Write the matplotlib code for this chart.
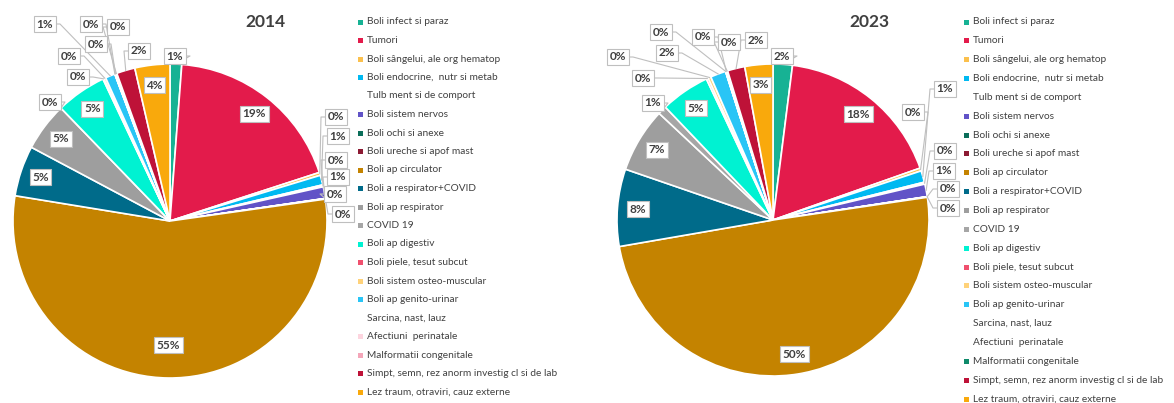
import numpy as np
import matplotlib.pyplot as plt

W, H = 1174, 403

categories = [
    "Boli infect si paraz", "Tumori", "Boli sângelui, ale org hematop",
    "Boli endocrine,  nutr si metab", "Tulb ment si de comport",
    "Boli sistem nervos", "Boli ochi si anexe", "Boli ureche si apof mast",
    "Boli ap circulator", "Boli a respirator+COVID", "Boli ap respirator",
    "COVID 19", "Boli ap digestiv", "Boli piele, tesut subcut",
    "Boli sistem osteo-muscular", "Boli ap genito-urinar",
    "Sarcina, nast, lauz", "Afectiuni  perinatale", "Malformatii congenitale",
    "Simpt, semn, rez anorm investig cl si de lab",
    "Lez traum, otraviri, cauz externe",
]

# percentages
values_2014 = [1.2, 18.8, 0.3, 1.0, 0.2, 1.2, 0.02, 0.05, 54.8, 5.2, 5.0,
               0.0, 5.2, 0.1, 0.2, 1.0, 0.02, 0.1, 0.1, 1.9, 3.6]
values_2023 = [2.0, 17.6, 0.3, 1.2, 0.2, 1.3, 0.02, 0.05, 49.6, 8.0, 6.7,
               0.9, 5.1, 0.2, 0.3, 1.6, 0.02, 0.1, 0.1, 1.8, 2.9]

colors_2014 = ["#17b294", "#e31b4b", "#fbc04d", "#00b9f1", None, "#6153c7",
               "#0b6e5a", "#8c1a33", "#c48300", "#006b8a", "#9e9e9e",
               "#a6a6a6", "#00f2d2", "#f0506e", "#ffd27a", "#29c5f6", None,
               "#fdd5df", "#f4a6b9", "#be1238", "#f9a90c"]
colors_2023 = list(colors_2014)
colors_2023[17] = None
colors_2023[18] = "#0f8a6a"

# outside label positions (pixels) for the small slices
out_2014 = {0: (175, 56), 2: (336, 117), 3: (338, 136), 4: (336, 160),
            5: (338, 177), 6: (335, 194), 7: (343, 214), 11: (50, 102),
            13: (78, 77), 14: (69, 56), 15: (45, 24), 16: (91, 24),
            17: (96, 44), 18: (118, 27), 19: (139, 51)}
out_2023 = {0: (782, 56), 2: (913, 112), 3: (945, 89), 4: (945, 151),
            5: (944, 171), 6: (948, 189), 7: (948, 208), 11: (653, 103),
            13: (643, 78), 14: (618, 57), 15: (667, 53), 16: (661, 32),
            17: (703, 37), 18: (729, 42), 19: (756, 40)}

txt = "#404040"
line_c = "#bfbfbf"

plt.rcParams['font.family'] = ['Lato', 'DejaVu Sans']
fig = plt.figure(figsize=(W / 100, H / 100), dpi=100)
ax = fig.add_axes([0, 0, 1, 1])


def draw_pie(values, colors, cx, cy, r, title, tx, outside, inner_r, lx0, ly0, ldy):
    cy = H - cy
    fill = [c if c else "white" for c in colors]
    wedges, _ = ax.pie(values, colors=fill, startangle=90, counterclock=False,
                       center=(cx, cy), radius=r,
                       wedgeprops=dict(edgecolor="white", linewidth=1.2))
    total = sum(values)
    for i, w in enumerate(wedges):
        pct = "%.0f%%" % (100 * values[i] / total)
        ang = np.deg2rad((w.theta1 + w.theta2) / 2)
        if i in outside:
            px, py = outside[i]
            py = H - py
            ex, ey = cx + r * np.cos(ang), cy + r * np.sin(ang)
            s = -1 if px > ex else 1
            ax.plot([ex, px + s * 15, px + s * 10], [ey, py, py], color=line_c,
                    lw=0.8, zorder=3)
        else:
            rr = inner_r.get(i, 0.87)
            px, py = cx + rr * r * np.cos(ang), cy + rr * r * np.sin(ang)
        ax.text(px, py, pct, ha="center", va="center", fontsize=8.5,
                fontweight="bold", color=txt, zorder=5,
                bbox=dict(boxstyle="square,pad=0.22", fc="white", ec=line_c, lw=0.8))
    ax.text(tx, H - 22, title, ha="center", va="center", fontsize=12.5,
            fontweight="bold", color=txt)
    # legend
    for i, name in enumerate(categories):
        y = H - (ly0 + i * ldy)
        if colors[i]:
            ax.add_patch(plt.Rectangle((lx0 - 2.5, y - 2.5), 5, 5,
                                       color=colors[i], lw=0))
        ax.text(lx0 + 7, y, name, ha="left", va="center", fontsize=7.3,
                color=txt)


draw_pie(values_2014, colors_2014, 170, 221, 157, "2014", 265, out_2014,
         {8: 0.79}, 360, 22, 18.5)
draw_pie(values_2023, colors_2023, 773, 220, 156, "2023", 869, out_2023,
         {}, 966, 22, 18.85)

ax.set_xlim(0, W)
ax.set_ylim(0, H)
ax.set_aspect("auto")
ax.axis("off")

fig.savefig("out.png", dpi=100)
